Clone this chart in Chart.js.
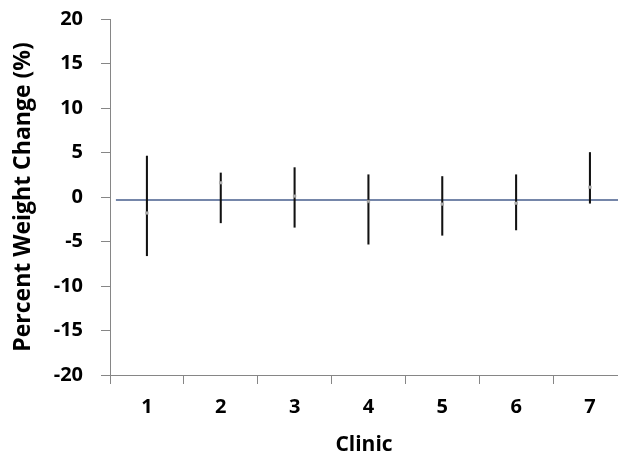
<!DOCTYPE html>
<html>
<head>
<meta charset="utf-8">
<script src="https://cdn.jsdelivr.net/npm/chart.js@4/dist/chart.umd.min.js"></script>
<style>
  html, body { margin: 0; padding: 0; background: #fff; overflow: hidden; }
</style>
</head>
<body>
<canvas id="chart" width="618" height="462"></canvas>
<script>
const clinics = [1, 2, 3, 4, 5, 6, 7];
const means = [-1.8, 1.6, 0.1, -0.5, -0.8, -0.7, 1.1];
const lows = [-6.6, -2.9, -3.4, -5.3, -4.3, -3.7, -0.7];
const highs = [4.6, 2.7, 3.3, 2.5, 2.3, 2.5, 5.0];
const overallMean = -0.35;
const overallSpan = [0.58, 7.5];
const yTicks = [-20, -15, -10, -5, 0, 5, 10, 15, 20];

const axisGrey = "#868686";
const font = { family: "'Open Sans'", size: 20, weight: "bold" };
const titleFont = { family: "'Open Sans'", size: 21, weight: "bold" };

const ctx = document.getElementById("chart").getContext("2d");
const chart = new Chart(ctx, {
  data: {
    datasets: [{
      type: "line",
      data: overallSpan.map(x => ({ x: x, y: overallMean })),
      borderColor: "#7586a9",
      borderWidth: 2,
      pointRadius: 0,
      order: 3
    }, {
      type: "bar",
      data: clinics.map((c, i) => ({ x: c, y: [lows[i], highs[i]] })),
      backgroundColor: "#111111",
      barThickness: 1.4,
      order: 2
    }, {
      type: "scatter",
      data: clinics.map((c, i) => ({ x: c, y: means[i] })),
      pointStyle: "rect",
      pointRadius: 1.8,
      backgroundColor: "#b4b4b4",
      borderColor: "#9a9a9a",
      borderWidth: 0.6,
      order: 1
    }]
  },
  options: {
    responsive: false,
    animation: false,
    layout: { autoPadding: false, padding: { top: 19, right: 0, left: 0, bottom: 0 } },
    plugins: { legend: { display: false }, tooltip: { enabled: false } },
    scales: {
      x: {
        type: "linear",
        offset: false,
        min: 0.5,
        max: 7.38,
        afterBuildTicks: s => { s.ticks = clinics.map(v => ({ value: v })); },
        afterFit: s => { s.height = 87; s.paddingLeft = 0; s.paddingRight = 0; },
        grid: { offset: true, drawOnChartArea: false, drawTicks: true, tickLength: 9, color: axisGrey },
        border: { color: axisGrey, width: 1 },
        ticks: { font: font, color: "#000", padding: 11, autoSkip: false, maxRotation: 0 },
        title: { display: true, text: "Clinic", font: titleFont, color: "#000", padding: { top: 0, bottom: 4 } }
      },
      y: {
        min: -20,
        max: 20,
        afterBuildTicks: s => { s.ticks = yTicks.map(v => ({ value: v })); },
        afterFit: s => { s.width = 110; s.paddingTop = 0; s.paddingBottom = 0; },
        grid: { drawOnChartArea: false, drawTicks: true, tickLength: 9, color: axisGrey },
        border: { color: axisGrey, width: 1 },
        ticks: { font: font, color: "#000", padding: 18 },
        title: { display: true, text: "Percent Weight Change (%)", font: { family: "'Open Sans'", size: 23, weight: "bold" }, color: "#000", padding: { top: 10, bottom: 0 } }
      }
    }
  }
});
</script>
</body>
</html>
